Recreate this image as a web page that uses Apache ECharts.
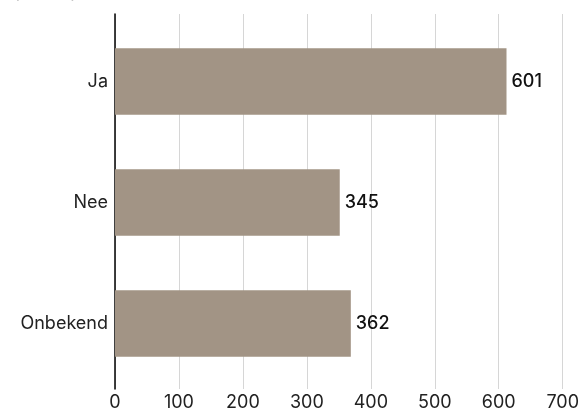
<!DOCTYPE html>
<html><head><meta charset="utf-8">
<script src="https://cdn.jsdelivr.net/npm/echarts@6/dist/echarts.min.js"></script>
<style>html,body{margin:0;padding:0;background:#fff}#c{width:582px;height:412px}</style>
</head><body><div id="c"></div>
<script>
const categories = ['Ja', 'Nee', 'Onbekend'];
const values = [601, 345, 362];
const xTicks = [0, 100, 200, 300, 400, 500, 600, 700];
const unitLabel = '(aantal)';

const font = 'Inter, Roboto, sans-serif';
const chart = echarts.init(document.getElementById('c'), null, {renderer: 'canvas'});
chart.setOption({
  animation: false,
  textStyle: {fontFamily: font},
  graphic: [{type: 'text', left: 13, top: -16, style: {text: unitLabel, fontSize: 18, fontFamily: font, fill: '#222'}}],
  grid: [
    {left: 115, right: 11, top: 21, bottom: 28, containLabel: false},
    {left: 115, right: 11, top: 14, bottom: 23, containLabel: false}
  ],
  xAxis: [
    {gridIndex: 0, type: 'value', min: 0, max: 700, interval: 100,
     axisLine: {show: false}, axisTick: {show: false}, axisLabel: {show: false}, splitLine: {show: false}},
    {gridIndex: 1, type: 'value', min: xTicks[0], max: xTicks[xTicks.length - 1], interval: 100,
     axisLine: {show: false}, axisTick: {show: false},
     axisLabel: {color: '#222', fontSize: 18, margin: 5, fontFamily: font},
     splitLine: {show: true, lineStyle: {color: '#d6d6d6', width: 1}}}
  ],
  yAxis: [
    {gridIndex: 0, type: 'category', data: categories, inverse: true,
     axisLine: {show: false}, axisTick: {show: false},
     axisLabel: {color: '#222', fontSize: 18, margin: 7, fontFamily: font}},
    {gridIndex: 1, type: 'value', min: 0, max: 1,
     axisLine: {show: true, lineStyle: {color: '#000', width: 1.5}},
     axisTick: {show: false}, axisLabel: {show: false}, splitLine: {show: false}}
  ],
  series: [{
    type: 'bar', xAxisIndex: 0, yAxisIndex: 0, data: values, barCategoryGap: '45%',
    itemStyle: {color: '#a29485'},
    label: {show: true, position: 'right', distance: 5, color: '#111', fontSize: 18, fontWeight: 500, fontFamily: font},
    z: 3
  }]
});
</script></body></html>
